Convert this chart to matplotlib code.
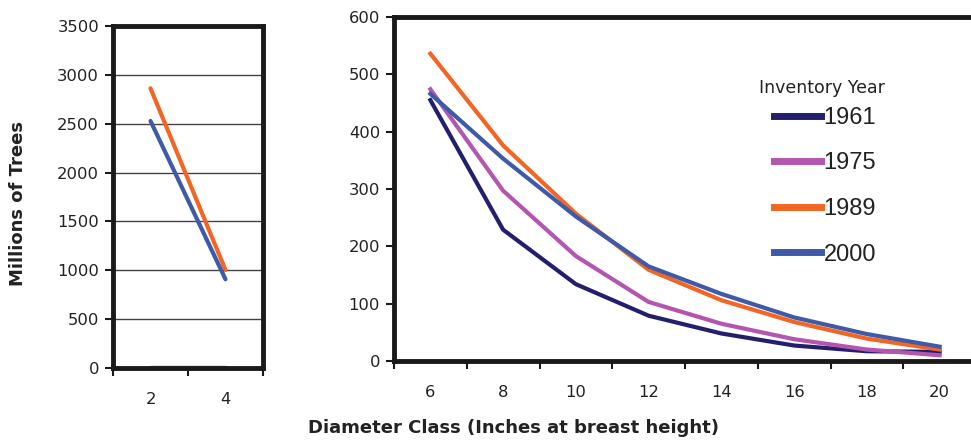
import numpy as np
import matplotlib
matplotlib.use("Agg")
import matplotlib.pyplot as plt

plt.rcParams['font.family'] = ['DejaVu Sans']

years = ['1961', '1975', '1989', '2000']
colors = ['#231f6e', '#b455b0', '#f26522', '#3e5aa8']

# small diameter classes (left panel)
small_classes = [2, 4]
small_1961 = [0, 0]
small_1975 = [0, 0]
small_1989 = [2862, 1003]
small_2000 = [2528, 908]

# larger diameter classes (right panel)
big_classes = [6, 8, 10, 12, 14, 16, 18, 20]
big_1961 = [455, 229, 134, 79, 48, 27, 17, 16]
big_1975 = [474, 297, 183, 103, 65, 38, 20, 10]
big_1989 = [536, 376, 257, 159, 106, 68, 39, 20]
big_2000 = [466, 353, 252, 165, 117, 76, 47, 25]

small_series = [small_1961, small_1975, small_1989, small_2000]
big_series = [big_1961, big_1975, big_1989, big_2000]

W, H = 971, 442
fig = plt.figure(figsize=(W / 100, H / 100), dpi=100)

# Axes placed in pixel coords
ax1 = fig.add_axes([113 / W, 1 - 368 / H, (263 - 113) / W, (368 - 26) / H])
ax2 = fig.add_axes([394 / W, 1 - 361 / H, (976 - 394) / W, (361 - 17) / H])

for ax in (ax1, ax2):
    for s in ax.spines.values():
        s.set_linewidth(3.5)
        s.set_color('#1a1a1a')
    ax.tick_params(axis='both', labelsize=11.8, length=6, width=1.5, pad=4,
                   color='#1a1a1a', labelcolor='#222222')

# Left panel
for vals, c in zip(small_series, colors):
    ax1.plot(small_classes, vals, color=c, lw=3, solid_capstyle='round')
ax1.set_xlim(1, 5)
ax1.set_ylim(0, 3500)
ax1.set_yticks(np.arange(0, 3501, 500))
ax1.set_xticks([1, 3, 5])
ax1.set_xticklabels([])
ax1.set_xticks(small_classes, minor=True)
ax1.set_xticklabels([str(v) for v in small_classes], minor=True)
ax1.tick_params(axis='x', which='minor', length=0, labelsize=11.8, pad=17,
                labelcolor='#222222')
for yv in range(500, 3500, 500):
    ax1.axhline(yv, color='#444444', lw=1, zorder=0)

# Right panel
lines = []
for vals, c, yr in zip(big_series, colors, years):
    ln, = ax2.plot(big_classes, vals, color=c, lw=3, label=yr)
    lines.append(ln)
ax2.set_xlim(5, 21)
ax2.set_ylim(0, 600)
ax2.set_yticks(np.arange(0, 601, 100))
ax2.set_xticks(np.arange(5, 22, 2))
ax2.set_xticklabels([])
ax2.set_xticks(big_classes, minor=True)
ax2.set_xticklabels([str(v) for v in big_classes], minor=True)
ax2.tick_params(axis='x', which='minor', length=0, labelsize=11.8, pad=17,
                labelcolor='#222222')

# legend title drawn separately so it sits close to the entries
fig.text(885 / W, 1 - 88 / H, 'Inventory Year', ha='right', va='center',
         fontsize=12.5, color='#222222')
leg = ax2.legend(handles=lines, loc='upper right',
                 bbox_to_anchor=(888 / W, 1 - 95 / H),
                 bbox_transform=fig.transFigure, frameon=False,
                 prop={'family': 'Liberation Sans', 'size': 17},
                 handlelength=2.0, handletextpad=0.1,
                 labelspacing=1.0, borderpad=0)
for lh in leg.get_lines():
    lh.set_linewidth(5)
for t in leg.get_texts():
    t.set_color('#222222')

fig.text(18 / W, 1 - 203 / H, 'Millions of Trees', rotation=90,
         ha='center', va='center', fontsize=13, fontweight='bold',
         color='#222222')
fig.text(513 / W, 1 - 428 / H, 'Diameter Class (Inches at breast height)',
         ha='center', va='center', fontsize=13, fontweight='bold',
         color='#222222')

fig.savefig('out.png', dpi=100)
plt.close(fig)
